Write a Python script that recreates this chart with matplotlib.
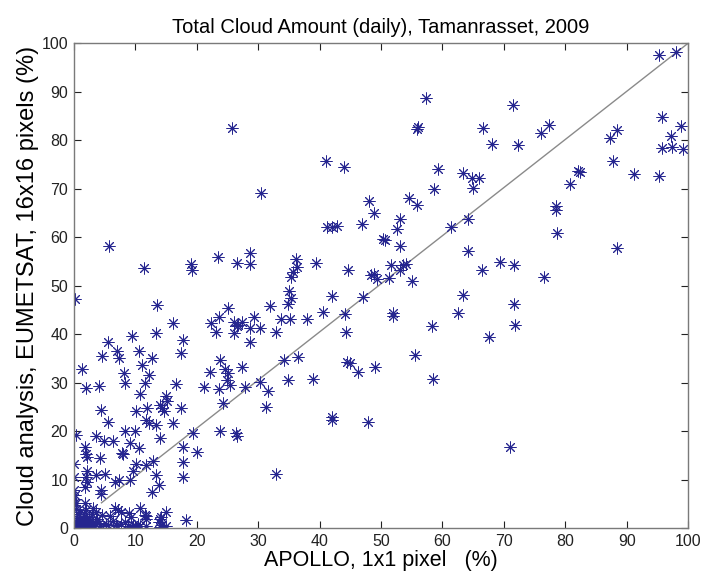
import numpy as np
import matplotlib
matplotlib.use('Agg')
import matplotlib.pyplot as plt

plt.rcParams['font.family'] = ['Liberation Sans', 'DejaVu Sans']

# APOLLO (x) vs EUMETSAT (y) daily cloud amount
apollo = [
    95.2, 98.0, 57.3, 71.5, 56.0, 55.8, 66.6, 76.1, 77.4, 68.0, 72.3, 87.2, 88.4, 95.8, 98.9, 97.2,
    95.7, 97.3, 99.2, 87.7, 59.2, 63.3, 64.8, 65.9, 64.9, 58.6, 54.5, 55.8, 82.4, 82.0, 80.8, 91.1,
    95.3, 78.4, 78.5, 78.7, 64.1, 61.4, 48.0, 48.8, 53.1, 52.6, 25.8, 41.0, 43.9, 30.4, 46.9, 41.2,
    42.0, 42.9,
    88.4, 64.1, 69.4, 71.7, 66.4, 76.6, 63.3, 71.7, 62.5, 51.9, 51.9, 58.3, 71.8, 67.6, 55.5, 58.4,
    71.0, 50.3, 50.7, 53.1, 51.6, 53.6, 53.1, 54.1, 48.9, 49.4, 51.3, 55.1, 48.4,
    5.7, 11.4, 19.0, 19.2, 23.4, 28.6, 26.5, 28.7, 36.2, 36.3, 35.6, 35.3, 39.4, 44.7,
    0.2, 13.5, 25.1, 31.9, 35.0, 35.4, 34.9, 42.1, 47.0, 40.6, 44.1,
    16.2, 22.4, 23.7, 23.1, 26.0, 26.5, 27.3, 26.0, 26.8, 28.7, 29.3, 30.3, 32.9, 33.8, 35.2, 37.9,
    44.3, 13.4,
    17.8, 28.6, 17.5, 9.5, 5.5, 4.6, 7.0, 7.4, 10.6, 11.1, 12.7, 1.3, 8.1, 8.3, 12.3, 11.6, 2.0,
    4.1, 10.8, 16.7, 15.0,
    23.8, 22.2, 24.6, 25.1, 24.9, 25.4, 27.3, 21.2, 23.7, 27.9, 30.3, 31.6, 34.2, 36.5, 34.8, 38.9,
    44.5, 44.9, 46.3, 49.0,
    14.0, 14.4, 14.6, 15.1, 17.5, 4.5, 10.2, 11.9, 5.6, 11.7, 12.3, 13.3, 16.2, 24.3, 31.3, 42.1,
    42.1, 47.8,
    0.3, 3.6, 8.3, 9.9, 14.0, 4.9, 6.3, 9.1, 10.6, 1.8, 19.4, 23.8, 26.4, 26.5, 17.8, 20.1,
    7.8, 8.0, 2.0, 2.1, 4.3, 0.0, 10.1, 11.7, 12.9, 2.2, 9.6, 9.2, 17.8, 17.8, 13.4, 13.9, 12.7, 32.9,
    0.0, 2.0, 2.2, 1.8, 3.6, 5.0, 6.7, 7.4, 0.0, 0.2, 4.5, 4.4,
    0.0, 0.4, 1.8, 0.0, 0.3, 2.0, 6.7, 7.2, 3.1, 3.6, 10.8, 11.8, 15.0, 14.0, 13.9, 18.2, 9.0, 9.3,
    11.6, 11.7, 14.2, 7.7,
    0.0, 0.7, 2.1, 2.3, 3.1, 4.2, 5.6, 7.0, 8.8, 9.4, 10.7, 11.7, 14.0, 14.3,
    0.3, 1.1, 2.0, 2.8, 4.1, 5.2, 6.8, 7.7, 9.6, 10.4, 15.0,
    0.0, 0.5, 1.2, 1.6, 2.2, 2.5, 1.9, 3.0, 3.8, 0.8, 1.4, 2.6, 6.3, 5.9, 8.4, 0.1, 2.2, 1.0, 2.9,
    4.6, 0.6, 1.5, 2.4, 3.4,
]
eumetsat = [
    97.5, 98.1, 88.6, 87.2, 82.7, 82.2, 82.4, 81.5, 83.1, 79.2, 79.0, 80.5, 82.1, 84.7, 83.0, 80.8,
    78.3, 78.5, 78.2, 75.7, 74.0, 73.3, 72.1, 72.1, 70.2, 70.0, 68.0, 66.7, 73.5, 73.6, 70.9, 73.0,
    72.6, 66.4, 65.6, 60.8, 63.7, 62.0, 67.5, 64.9, 63.8, 61.7, 82.5, 75.7, 74.4, 69.0, 62.8, 62.1,
    62.0, 62.2,
    57.8, 57.2, 54.8, 54.2, 53.3, 51.8, 48.0, 46.2, 44.4, 44.3, 43.8, 41.6, 41.8, 39.4, 35.7, 30.7,
    16.8, 59.7, 59.4, 58.1, 54.2, 54.3, 53.3, 54.5, 52.4, 51.4, 51.5, 51.0, 52.2,
    58.1, 53.6, 54.4, 53.3, 55.8, 56.8, 54.6, 54.5, 55.4, 53.9, 52.7, 51.7, 54.6, 53.3,
    47.2, 46.0, 45.4, 45.7, 48.8, 47.5, 46.2, 47.9, 47.7, 44.6, 44.1,
    42.2, 42.3, 43.6, 40.4, 42.5, 41.6, 42.5, 40.2, 41.9, 41.3, 43.5, 41.2, 40.5, 43.2, 43.1, 43.2,
    40.5, 40.3,
    38.8, 38.4, 36.0, 39.6, 38.4, 35.5, 36.6, 35.0, 36.6, 33.7, 35.1, 32.7, 31.9, 30.0, 31.6, 30.0,
    28.8, 29.3, 27.6, 29.6, 27.2,
    34.7, 32.2, 32.8, 31.9, 30.5, 29.5, 33.3, 29.1, 28.6, 29.1, 30.2, 28.2, 34.6, 35.3, 30.5, 30.7,
    34.2, 34.1, 32.2, 33.3,
    25.4, 24.8, 24.2, 26.2, 24.8, 24.3, 24.2, 24.7, 21.8, 22.2, 21.6, 21.3, 21.6, 25.7, 25.0, 22.8,
    22.3, 21.8,
    19.2, 18.9, 20.0, 20.1, 18.5, 17.9, 18.0, 17.5, 16.6, 16.8, 19.5, 20.1, 19.5, 19.0, 16.8, 15.6,
    15.5, 15.3, 15.3, 14.7, 14.4, 13.3, 13.3, 13.0, 13.9, 11.8, 11.8, 9.9, 13.7, 10.5, 10.9, 8.9,
    7.4, 11.1,
    10.5, 10.6, 9.5, 8.5, 10.9, 11.1, 9.5, 9.9, 7.8, 6.9, 7.8, 7.0,
    5.2, 5.1, 5.1, 4.7, 4.0, 3.7, 4.1, 3.7, 4.1, 3.4, 4.1, 2.4, 3.4, 1.8, 1.3, 1.6, 3.0, 2.3,
    2.7, 1.8, 2.3, 3.4,
    0.4, 0.5, 0.6, 0.3, 0.5, 0.4, 0.6, 0.4, 0.5, 0.3, 0.5, 0.4, 0.3, 0.6,
    0.8, 0.9, 0.8, 0.9, 1.0, 0.8, 0.7, 0.9, 0.7, 0.8, 0.5,
    1.5, 2.0, 1.3, 2.4, 1.6, 2.2, 1.0, 1.4, 1.8, 2.8, 0.2, 0.2, 1.5, 2.4, 1.2, 0.0, 0.0, 3.3, 2.8,
    2.6, 1.1, 1.8, 1.2, 0.9,
]

# fitted line, end points
line_x = [4.5, 100]
line_y = [5.2, 100]

ticks = list(range(0, 101, 10))

fig = plt.figure(figsize=(7.03, 5.87), dpi=100)
ax = fig.add_axes([0.105, 0.1005, 0.874, 0.826])

ax.plot(line_x, line_y, '-', color='#8a8a8a', lw=1.0, zorder=1)
ax.plot(apollo, eumetsat, linestyle='none', marker=(8, 2, 0), markersize=8.5,
        markeredgewidth=0.7, color='#25258f', zorder=2)

ax.set_xlim(0, 100)
ax.set_ylim(0, 100)
ax.set_xticks(ticks)
ax.set_yticks(ticks)
ax.tick_params(direction='in', top=True, right=True, length=5, width=0.8,
               labelsize=11.5, colors='#222222', pad=4)
for s in ax.spines.values():
    s.set_color('#7a7a7a')
    s.set_linewidth(1.0)

ax.set_title('Total Cloud Amount (daily), Tamanrasset, 2009', fontsize=14.5, pad=7)
ax.set_xlabel('APOLLO, 1x1 pixel   (%)', fontsize=15.5, labelpad=1)
ax.set_ylabel('Cloud analysis, EUMETSAT, 16x16 pixels (%)', fontsize=17, labelpad=2)

fig.savefig('out.png', dpi=100)
